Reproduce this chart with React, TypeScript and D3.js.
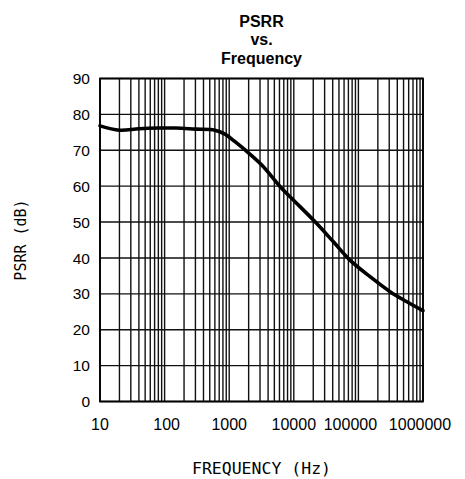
import React from "react";
import * as d3 from "d3";

const freqs = [10, 20, 40, 80, 150, 300, 600, 860, 1230, 1760, 3190, 6480, 10000, 21000, 41000, 74000, 151000, 309000, 563000, 1000000];
const psrr = [76.8, 75.6, 76.0, 76.2, 76.2, 75.9, 75.6, 74.5, 72.4, 70.1, 65.9, 59.4, 56.0, 50.2, 44.5, 39.4, 34.8, 30.6, 27.8, 25.3];
const xTicks = [10, 100, 1000, 10000, 100000, 1000000];
const xTickLabels = ["10", "100", "1000", "10000", "100000", "1000000"];
const yTicks = [0, 10, 20, 30, 40, 50, 60, 70, 80, 90];
const titleLines = ["PSRR", "vs.", "Frequency"];

const W = 465, H = 479;
const m = { left: 100, right: 423, top: 78.5, bottom: 401.5 };

export default function App() {
  const x = d3.scaleLog().domain([10, 1e6]).range([m.left, m.right]);
  const y = d3.scaleLinear().domain([0, 90]).range([m.bottom, m.top]);
  const minor: number[] = [];
  for (let d = 10; d < 1e6; d *= 10) for (let k = 2; k <= 9; k++) minor.push(d * k);
  const line = d3.line<number>().x((_, i) => x(freqs[i])).y((v) => y(v)).curve(d3.curveCatmullRom.alpha(0.5));
  const labelShift = [0, 2, 0, 0, -8, -3];
  const cx = (m.left + m.right) / 2;
  return (
    <svg width={W} height={H} style={{ position: "absolute", left: 0, top: 0, background: "#fff" }}>
      {titleLines.map((t, i) => (
        <text key={t} x={cx} y={27 + i * 18.3} textAnchor="middle"
          fontFamily="Liberation Sans, Arial, sans-serif" fontWeight="bold" fontSize={16}>{t}</text>
      ))}
      {minor.concat(xTicks).map((f, i) => (
        <line key={"v" + i} x1={x(f)} x2={x(f)} y1={m.top} y2={m.bottom} stroke="#111" strokeWidth={1.4} />
      ))}
      {yTicks.map((v) => (
        <line key={"h" + v} x1={m.left} x2={m.right} y1={y(v)} y2={y(v)} stroke="#111" strokeWidth={1.4} />
      ))}
      <rect x={m.left} y={m.top} width={m.right - m.left} height={m.bottom - m.top} fill="none" stroke="#000" strokeWidth={1.8} />
      <path d={line(psrr) || ""} fill="none" stroke="#000" strokeWidth={3.6} strokeLinejoin="round" strokeLinecap="round" />
      {yTicks.map((v) => (
        <text key={"yl" + v} x={90} y={y(v)} dy="0.36em" textAnchor="end"
          fontFamily="Liberation Sans, Arial, sans-serif" fontSize={15.5}>{v}</text>
      ))}
      {xTicks.map((f, i) => (
        <text key={"xl" + f} x={x(f) + labelShift[i]} y={430} textAnchor="middle"
          fontFamily="Liberation Sans, Arial, sans-serif" fontSize={16}>{xTickLabels[i]}</text>
      ))}
      <text x={cx} y={474} textAnchor="middle" fontFamily="DejaVu Sans Mono, monospace" fontSize={16.5}>FREQUENCY (Hz)</text>
      <text transform={`translate(26,${(m.top + m.bottom) / 2}) rotate(-90)`} textAnchor="middle"
        fontFamily="DejaVu Sans Mono, monospace" fontSize={15}>PSRR (dB)</text>
    </svg>
  );
}
